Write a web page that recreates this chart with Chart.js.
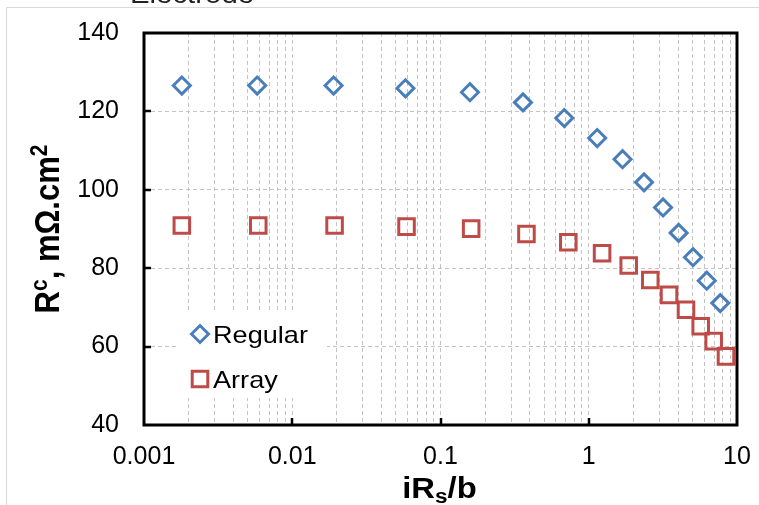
<!DOCTYPE html>
<html>
<head>
<meta charset="utf-8">
<script src="https://cdn.jsdelivr.net/npm/chart.js@4.4.1/dist/chart.umd.min.js"></script>
<style>
  html, body { margin: 0; padding: 0; background: #fff; }
  #wrap { width: 759px; height: 505px; }
</style>
</head>
<body>
<div id="wrap"><canvas id="chart" width="759" height="505"></canvas></div>
<script>
// values: x = iRs/b, y = Rc (mOhm.cm2)
var regularX = [0.0018, 0.0058, 0.019, 0.058, 0.158, 0.36, 0.684, 1.14, 1.69, 2.36, 3.17, 4.04, 5.05, 6.25, 7.71];
var regularY = [126.6, 126.6, 126.6, 125.9, 124.9, 122.3, 118.3, 113.2, 107.8, 101.9, 95.5, 89.0, 82.8, 76.8, 71.1];
var arrayX = [0.0018, 0.0059, 0.0193, 0.059, 0.161, 0.38, 0.728, 1.23, 1.86, 2.60, 3.48, 4.53, 5.69, 6.96, 8.43];
var arrayY = [90.9, 90.9, 90.9, 90.6, 90.1, 88.7, 86.6, 83.8, 80.7, 77.0, 73.2, 69.4, 65.2, 61.4, 57.5];
var seriesNames = ['Regular', 'Array'];
var xMajorTicks = [0.001, 0.01, 0.1, 1, 10];
var yTicks = [40, 60, 80, 100, 120, 140];

var BLUE = '#4a7ebb';
var RED = '#be4b48';
var FONT = '"Liberation Sans", Arial, sans-serif';
var STRETCH = 1.13; // text in the picture is a bit wider than Arial

// log axis: majors plus 2..9 minors inside each decade
var xAllTicks = [];
xMajorTicks.forEach(function (d, i) {
    xAllTicks.push(d);
    if (i < xMajorTicks.length - 1) {
        for (var k = 2; k <= 9; k++) {
            xAllTicks.push(d * k);
        }
    }
});

function points(xs, ys) {
    return xs.map(function (x, i) {
        return {x: x, y: ys[i]};
    });
}

function isEdge(v, list) {
    return v === list[0] || v === list[list.length - 1];
}

// the plot box is placed by layout.padding alone
function noScalePadding(axis) {
    axis.paddingTop = 0;
    axis.paddingBottom = 0;
    axis.paddingLeft = 0;
    axis.paddingRight = 0;
}

// draws text pieces (with super/subscripts) centred on x, on a baseline y
function drawRich(ctx, parts, x, y) {
    var total = 0;
    parts.forEach(function (p) {
        ctx.font = p.font;
        p.w = ctx.measureText(p.t).width;
        total += p.w;
    });
    var cx = x - total / 2;
    ctx.textAlign = 'left';
    ctx.textBaseline = 'alphabetic';
    parts.forEach(function (p) {
        ctx.font = p.font;
        ctx.fillText(p.t, cx, y + (p.dy || 0));
        cx += p.w;
    });
}

var decorations = {
    id: 'decorations',
    beforeDraw: function (chart) {
        var ctx = chart.ctx;
        ctx.save();
        ctx.fillStyle = '#fff';
        ctx.fillRect(0, 0, chart.width, chart.height);

        // title of the source figure, cut off at the top
        ctx.fillStyle = '#222';
        ctx.translate(192, 3);
        ctx.scale(STRETCH, 1);
        drawRich(ctx, [{t: 'Electrode', font: '26px ' + FONT}], 0, 0);
        ctx.restore();

        // faint outer frame
        ctx.save();
        ctx.strokeStyle = '#d9d9d9';
        ctx.lineWidth = 1;
        ctx.beginPath();
        ctx.moveTo(6.5, chart.height);
        ctx.lineTo(6.5, 7.5);
        ctx.lineTo(chart.width, 7.5);
        ctx.stroke();
        ctx.restore();
    },
    afterDatasetsDraw: function (chart) {
        var ctx = chart.ctx;
        var area = chart.chartArea;
        var xs = chart.scales.x;
        var ys = chart.scales.y;

        ctx.save();
        // plot box
        ctx.strokeStyle = '#000';
        ctx.lineWidth = 3;
        ctx.strokeRect(area.left, area.top, area.right - area.left, area.bottom - area.top);

        // inside tick marks
        ctx.lineWidth = 2.5;
        ctx.beginPath();
        xMajorTicks.forEach(function (v) {
            if (isEdge(v, xMajorTicks)) return;
            var px = Math.round(xs.getPixelForValue(v));
            ctx.moveTo(px, area.bottom);
            ctx.lineTo(px, area.bottom - 7);
        });
        yTicks.forEach(function (v) {
            if (isEdge(v, yTicks)) return;
            var py = Math.round(ys.getPixelForValue(v));
            ctx.moveTo(area.left, py);
            ctx.lineTo(area.left + 7, py);
        });
        ctx.stroke();

        // legend inside the plot, lower left
        var lx = area.left + 32;
        var ly = area.top + 279;
        ctx.fillStyle = '#fff';
        ctx.fillRect(lx, ly, 151, 86);
        chart.data.datasets.forEach(function (ds, i) {
            var my = ly + 22 + i * 45;
            var mx = lx + 24;
            ctx.lineWidth = ds.borderWidth;
            ctx.strokeStyle = ds.borderColor;
            ctx.beginPath();
            if (ds.pointStyle === 'rectRot') {
                ctx.moveTo(mx - ds.pointRadius, my);
                ctx.lineTo(mx, my - ds.pointRadius);
                ctx.lineTo(mx + ds.pointRadius, my);
                ctx.lineTo(mx, my + ds.pointRadius);
                ctx.closePath();
            } else {
                var h = Math.SQRT1_2 * ds.pointRadius;
                ctx.rect(mx - h, my - h, 2 * h, 2 * h);
            }
            ctx.stroke();
            ctx.save();
            ctx.fillStyle = '#000';
            ctx.translate(lx + 37, my + 8.5);
            ctx.scale(STRETCH, 1);
            ctx.font = '24px ' + FONT;
            ctx.textAlign = 'left';
            ctx.textBaseline = 'alphabetic';
            ctx.fillText(ds.label, 0, 0);
            ctx.restore();
        });

        // axis titles
        ctx.fillStyle = '#000';
        var bold = 'bold 29px ' + FONT;
        var small = 'bold 20px ' + FONT;
        ctx.save();
        ctx.translate((area.left + area.right) / 2 - 1, 498);
        ctx.scale(STRETCH, 1);
        drawRich(ctx, [
            {t: 'iR', font: bold},
            {t: 's', font: small, dy: 5},
            {t: '/b', font: bold}
        ], 0, 0);
        ctx.restore();

        var ybold = 'bold 31px ' + FONT;
        var ysmall = 'bold 21px ' + FONT;
        ctx.save();
        ctx.translate(48, (area.top + area.bottom) / 2);
        ctx.scale(STRETCH, 1);
        ctx.rotate(-Math.PI / 2);
        drawRich(ctx, [
            {t: 'R', font: ybold},
            {t: 'c', font: ysmall, dy: -11},
            {t: ', m\u03A9.cm', font: ybold},
            {t: '2', font: ysmall, dy: -11}
        ], 0, 10);
        ctx.restore();

        ctx.restore();
    }
};

var gridColor = '#c4c4c4';

new Chart(document.getElementById('chart'), {
    type: 'scatter',
    data: {
        datasets: [
            {
                label: seriesNames[0],
                data: points(regularX, regularY),
                pointStyle: 'rectRot',
                pointRadius: 8.5,
                borderWidth: 3,
                borderColor: BLUE,
                backgroundColor: 'rgba(0,0,0,0)',
                showLine: false
            },
            {
                label: seriesNames[1],
                data: points(arrayX, arrayY),
                pointStyle: 'rect',
                pointRadius: 11,
                borderWidth: 3,
                borderColor: RED,
                backgroundColor: 'rgba(0,0,0,0)',
                showLine: false
            }
        ]
    },
    options: {
        responsive: false,
        animation: false,
        events: [],
        layout: {
            padding: {left: 0, top: 33, right: 22, bottom: 0}
        },
        plugins: {
            legend: {display: false},
            tooltip: {enabled: false}
        },
        scales: {
            x: {
                type: 'logarithmic',
                min: xMajorTicks[0],
                max: xMajorTicks[xMajorTicks.length - 1],
                afterBuildTicks: function (axis) {
                    axis.ticks = xAllTicks.map(function (v) {
                        return {value: v};
                    });
                },
                afterFit: function (axis) {
                    axis.height = 80;
                    noScalePadding(axis);
                },
                ticks: {
                    autoSkip: false,
                    maxRotation: 0,
                    minRotation: 0,
                    padding: 17,
                    color: '#000',
                    font: {family: FONT, size: 25},
                    callback: function (value) {
                        return xMajorTicks.indexOf(value) >= 0 ? String(value) : '';
                    }
                },
                grid: {
                    drawTicks: false,
                    lineWidth: 1,
                    color: function (c) {
                        var v = c.tick ? c.tick.value : null;
                        return isEdge(v, xMajorTicks) ? 'rgba(0,0,0,0)' : gridColor;
                    }
                },
                border: {display: false, dash: [4, 3]}
            },
            y: {
                type: 'linear',
                min: yTicks[0],
                max: yTicks[yTicks.length - 1],
                afterBuildTicks: function (axis) {
                    axis.ticks = yTicks.map(function (v) {
                        return {value: v};
                    });
                },
                afterFit: function (axis) {
                    axis.width = 144;
                    noScalePadding(axis);
                },
                ticks: {
                    padding: 25,
                    color: '#000',
                    font: {family: FONT, size: 25}
                },
                grid: {
                    drawTicks: false,
                    lineWidth: 1,
                    color: function (c) {
                        var v = c.tick ? c.tick.value : null;
                        return isEdge(v, yTicks) ? 'rgba(0,0,0,0)' : gridColor;
                    }
                },
                border: {display: false, dash: [4, 3]}
            }
        }
    },
    plugins: [decorations]
});
</script>
</body>
</html>
